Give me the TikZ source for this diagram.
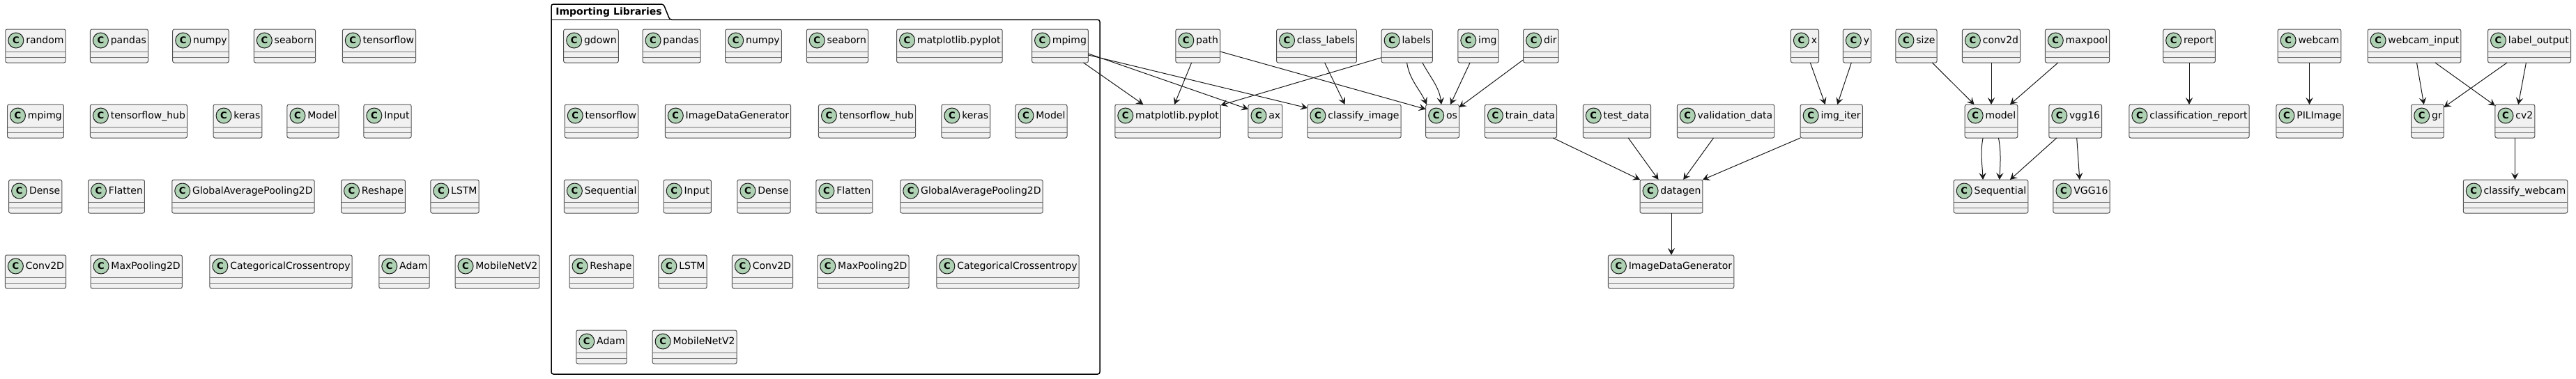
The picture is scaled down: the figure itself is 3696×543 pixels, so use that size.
\documentclass[tikz,border=0pt]{standalone}
\usepackage{fontspec}
\setmainfont{DejaVu Sans}
\usetikzlibrary{arrows.meta}
\definecolor{boxfill}{HTML}{F1F1F1}
\definecolor{boxline}{HTML}{181818}
\definecolor{spotfill}{HTML}{ADD1B2}
\newcommand{\clsfont}{\fontsize{7}{8.4}\selectfont}
\tikzset{
  clsbox/.style={draw=boxline!75, fill=boxfill, line width=0.5pt, rounded corners=1.25pt,
    minimum height=24pt, inner sep=0pt, outer sep=0pt, font=\clsfont},
  sepline/.style={draw=boxline!60, line width=0.5pt},
  spot/.style={circle, draw=boxline, fill=spotfill, line width=0.5pt, minimum size=11pt,
    inner sep=0pt, font=\bfseries\fontsize{6.6}{7}\selectfont},
  clslabel/.style={inner sep=0pt, font=\clsfont, anchor=base west},
  dep/.style={draw=boxline, line width=0.5pt, -{Stealth[length=5pt,width=5.2pt,inset=2pt]}},
  pkgframe/.style={draw=black, line width=0.75pt, rounded corners=1.5pt},
  pkgtitle/.style={inner sep=0pt, anchor=base west, font=\bfseries\fontsize{7}{8.4}\selectfont},
}
% id, label, x centre (px), y top (px)
\newcommand{\umlcls}[4]{%
  \node[clsbox, anchor=north] (#1) at (#3,#4) {\hspace*{16pt}\phantom{#2}};
  \draw[sepline] ([yshift=-16pt]#1.north west) -- ([yshift=-16pt]#1.north east);
  \draw[sepline] ([yshift=-20pt]#1.north west) -- ([yshift=-20pt]#1.north east);
  \node[spot] (#1-c) at ([xshift=7.5pt,yshift=-8pt]#1.north west) {C};
  \node[clslabel] (#1-t) at ([xshift=14.5pt,yshift=-10.45pt]#1.north west) {#2};
}
\begin{document}
\begin{tikzpicture}[x=0.5pt,y=-0.5pt]
\useasboundingbox (0,0) rectangle (3696,543);

% ---------- free classes on the left ----------
\umlcls{Lrandom}{random}{51}{42}
\umlcls{Lpandas}{pandas}{171}{42}
\umlcls{Lnumpy}{numpy}{288}{42}
\umlcls{Lseaborn}{seaborn}{408.5}{42}
\umlcls{Ltf}{tensorflow}{544}{42}
\umlcls{Lmpimg}{mpimg}{51}{150}
\umlcls{Ltfhub}{tensorflow\_hub}{199}{150}
\umlcls{Lkeras}{keras}{341}{150}
\umlcls{LModel}{Model}{449}{150}
\umlcls{LInput}{Input}{556}{150}
\umlcls{LDense}{Dense}{50.7}{258}
\umlcls{LFlatten}{Flatten}{167}{258}
\umlcls{LGAP}{GlobalAveragePooling2D}{349}{258}
\umlcls{LReshape}{Reshape}{535.5}{258}
\umlcls{LLSTM}{LSTM}{652.5}{258}
\umlcls{LConv}{Conv2D}{51}{366}
\umlcls{LMaxP}{MaxPooling2D}{195.7}{366}
\umlcls{LCC}{CategoricalCrossentropy}{403}{366}
\umlcls{LAdam}{Adam}{580}{366}
\umlcls{LMobile}{MobileNetV2}{713.5}{366}

% ---------- package ----------
\draw[pkgframe] (791,537) -- (791,6) -- (952,6) -- (961,28.3) -- (1578,28.3) -- (1578,537) -- cycle;
\draw[draw=black, line width=0.75pt] (791,28.3) -- (961,28.3);
\node[pkgtitle] (pkgname) at (797,21.5) {Importing Libraries};

\umlcls{Pgdown}{gdown}{848}{42}
\umlcls{Ppandas}{pandas}{963.6}{42}
\umlcls{Pnumpy}{numpy}{1081}{42}
\umlcls{Pseaborn}{seaborn}{1201.4}{42}
\umlcls{Pplt}{matplotlib.pyplot}{1362.4}{42}
\umlcls{Pmpimg}{mpimg}{1521}{42}
\umlcls{Ptf}{tensorflow}{863}{150}
\umlcls{PIDG}{ImageDataGenerator}{1044.5}{150}
\umlcls{Ptfhub}{tensorflow\_hub}{1244}{150}
\umlcls{Pkeras}{keras}{1385.8}{150}
\umlcls{PModel}{Model}{1494}{150}
\umlcls{PSeq}{Sequential}{862.7}{258}
\umlcls{PInput}{Input}{986.3}{258}
\umlcls{PDense}{Dense}{1096}{258}
\umlcls{PFlatten}{Flatten}{1211.4}{258}
\umlcls{PGAP}{GlobalAveragePooling2D}{1394}{258}
\umlcls{PReshape}{Reshape}{863}{366}
\umlcls{PLSTM}{LSTM}{979.5}{366}
\umlcls{PConv}{Conv2D}{1094}{366}
\umlcls{PMaxP}{MaxPooling2D}{1238.4}{366}
\umlcls{PCC}{CategoricalCrossentropy}{1446}{366}
\umlcls{PAdam}{Adam}{863}{474}
\umlcls{PMobile}{MobileNetV2}{996.6}{474}

% ---------- right part ----------
\umlcls{npath}{path}{1718.7}{42}
\umlcls{nclasslabels}{class\_labels}{1889}{42}
\umlcls{nlabels}{labels}{2018.7}{42}
\umlcls{nimg}{img}{2121}{42}
\umlcls{ndir}{dir}{2210.9}{42}
\umlcls{nx}{x}{2589.5}{42}
\umlcls{ny}{y}{2664.5}{42}
\umlcls{nsize}{size}{2749.5}{42}
\umlcls{nconv2d}{conv2d}{2857}{42}
\umlcls{nmaxpool}{maxpool}{2980.5}{42}
\umlcls{nreport}{report}{3141}{42}
\umlcls{nwebcam}{webcam}{3313.5}{42}
\umlcls{nwebcaminput}{webcam\_input}{3464}{42}
\umlcls{nlabeloutput}{label\_output}{3629}{42}

\umlcls{nplt}{matplotlib.pyplot}{1675.6}{150}
\umlcls{nax}{ax}{1815.4}{150}
\umlcls{nclassifyimage}{classify\_image}{1943}{150}
\umlcls{nos}{os}{2069.6}{150}
\umlcls{ntraindata}{train\_data}{2182}{150}
\umlcls{ntestdata}{test\_data}{2320}{150}
\umlcls{nvaldata}{validation\_data}{2476}{150}
\umlcls{nimgiter}{img\_iter}{2627.7}{150}
\umlcls{nmodel}{model}{2857}{150}
\umlcls{nvgg16}{vgg16}{2977.7}{150}
\umlcls{nclassreport}{classification\_report}{3141}{150}
\umlcls{nPIL}{PILImage}{3314}{150}
\umlcls{ngr}{gr}{3483}{150}
\umlcls{ncv2}{cv2}{3608.4}{150}

\umlcls{ndatagen}{datagen}{2398}{258}
\umlcls{nSeq}{Sequential}{2856.5}{258}
\umlcls{nVGG}{VGG16}{2986.5}{258}
\umlcls{nclassifywebcam}{classify\_webcam}{3609}{258}

\umlcls{nIDG}{ImageDataGenerator}{2397.6}{366}

% ---------- connectors ----------
\draw[dep] (Pmpimg.south -| 1554.5,0) -- (nplt.north -| 1640.4,0);
\draw[dep] (Pmpimg.east |- 0,77) -- (nax.west |- 0,156.7);
\draw[dep] (Pmpimg.east |- 0,79) -- (nclassifyimage.west |- 0,155);
\draw[dep] (npath.south -| 1709.6,0) -- (nplt.north -| 1685,0);
\draw[dep] (npath.east |- 0,74) -- (nos.west |- 0,156.7);
\draw[dep] (nclasslabels.south -| 1900.6,0) -- (nclassifyimage.north -| 1929.6,0);
\draw[dep] (nlabels.west |- 0,82.7) -- (nplt.east |- 0,151);
\draw[dep] (nlabels.south -| 2018.5,0) .. controls +(4,25) and +(-10,-22) .. (nos.north -| 2047,0);
\draw[dep] (nlabels.south -| 2040.8,0) .. controls +(12,22) and +(-3,-25) .. (nos.north -| 2068,0);
\draw[dep] (nimg.south -| 2109.1,0) -- (nos.north -| 2081,0);
\draw[dep] (ndir.west |- 0,85.7) -- (nos.east |- 0,154);
\draw[dep] (ntraindata.south -| 2228.3,0) -- (ndatagen.north west);
\draw[dep] (ntestdata.south -| 2336.2,0) -- (ndatagen.north -| 2379.5,0);
\draw[dep] (nvaldata.south -| 2458.5,0) -- (ndatagen.north -| 2415.2,0);
\draw[dep] (nimgiter.south west) -- (ndatagen.north east);
\draw[dep] (nx.south -| 2597.3,0) -- (nimgiter.north -| 2618.8,0);
\draw[dep] (ny.south -| 2656.3,0) -- (nimgiter.north -| 2636.2,0);
\draw[dep] (nsize.south -| 2772.3,0) -- (nmodel.north -| 2832.6,0);
\draw[dep] (nconv2d.south) -- (nmodel.north -| nconv2d.south);
\draw[dep] (nmaxpool.south -| 2952.8,0) -- (nmodel.north -| 2883.9,0);
\draw[dep] (nmodel.south -| 2845.1,0) .. controls +(-4,20) and +(-1,-20) .. (nSeq.north -| 2845.1,0);
\draw[dep] (nmodel.south -| 2867.4,0) .. controls +(4,20) and +(1,-20) .. (nSeq.north -| 2868.8,0);
\draw[dep] (nvgg16.south -| 2950.8,0) -- (nSeq.north -| 2883.9,0);
\draw[dep] (nvgg16.south -| 2979.7,0) -- (nVGG.north -| 2983.8,0);
\draw[dep] (nreport.south) -- (nclassreport.north);
\draw[dep] (nwebcam.south) -- (nPIL.north -| nwebcam.south);
\draw[dep] (nwebcaminput.south -| 3467.5,0) -- (ngr.north -| 3477.7,0);
\draw[dep] (nwebcaminput.south -| 3493.9,0) -- (ncv2.west |- 0,151.7);
\draw[dep] (nlabeloutput.south -| 3597,0) -- (ngr.east |- 0,154);
\draw[dep] (nlabeloutput.south -| 3624.4,0) -- (ncv2.north -| 3613.2,0);
\draw[dep] (ncv2.south) -- (nclassifywebcam.north -| ncv2.south);
\draw[dep] (ndatagen.south) -- (nIDG.north -| ndatagen.south);
\end{tikzpicture}
\end{document}
